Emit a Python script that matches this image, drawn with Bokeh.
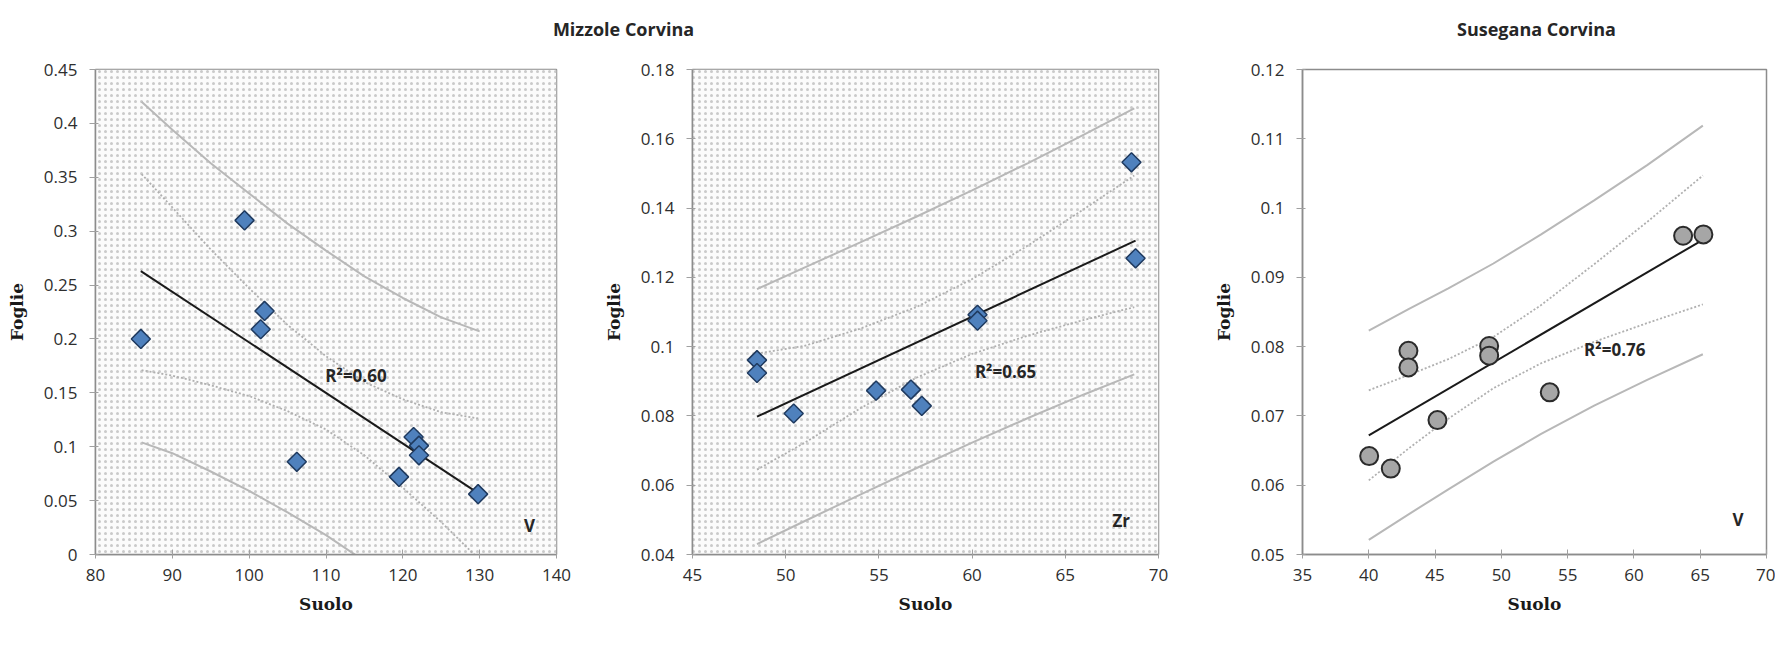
import numpy as np
from bokeh.plotting import figure
from bokeh.layouts import column, row
from bokeh.models import BoxAnnotation, Label, FixedTicker, Range1d
from bokeh.embed import file_html
from bokeh.resources import INLINE

# ---------------- data ----------------
# Panel 1: Mizzole Corvina, V
mv_suolo = [85.9, 99.4, 102.0, 101.5, 106.2, 119.5, 121.4, 122.1, 122.1, 129.8]
mv_foglie = [0.200, 0.310, 0.226, 0.209, 0.086, 0.072, 0.109, 0.101, 0.092, 0.056]
mv_trend_x = [85.9, 129.8]
mv_trend_y = [0.263, 0.057]
mv_band_x = [86, 90, 95, 100, 105, 110, 115, 120, 125, 130]
mv_pred_hi = [0.420, 0.394, 0.363, 0.335, 0.307, 0.282, 0.258, 0.238, 0.220, 0.207]
mv_pred_lo = [0.104, 0.094, 0.077, 0.059, 0.039, 0.018, -0.006, -0.032, -0.062, -0.095]
mv_conf_hi = [0.353, 0.322, 0.283, 0.247, 0.213, 0.184, 0.160, 0.144, 0.132, 0.126]
mv_conf_lo = [0.171, 0.166, 0.157, 0.147, 0.133, 0.116, 0.092, 0.062, 0.030, -0.005]
mv_xticks = [80, 90, 100, 110, 120, 130, 140]
mv_xlabels = ["80", "90", "100", "110", "120", "130", "140"]
mv_yticks = [0, 0.05, 0.1, 0.15, 0.2, 0.25, 0.3, 0.35, 0.4, 0.45]
mv_ylabels = ["0", "0.05", "0.1", "0.15", "0.2", "0.25", "0.3", "0.35", "0.4", "0.45"]

# Panel 2: Mizzole Corvina, Zr
mz_suolo = [48.46, 48.46, 50.43, 54.85, 56.72, 57.30, 60.29, 60.29, 68.55, 68.77]
mz_foglie = [0.0961, 0.0924, 0.0807, 0.0873, 0.0876, 0.0829, 0.1092, 0.1075, 0.1532, 0.1255]
mz_trend_x = [48.46, 68.77]
mz_trend_y = [0.0798, 0.1306]
mz_band_x = [48.46, 51, 54, 57, 60, 63, 66, 68.7]
mz_pred_hi = [0.1166, 0.1228, 0.1301, 0.1375, 0.1451, 0.1530, 0.1612, 0.1688]
mz_pred_lo = [0.0430, 0.0496, 0.0573, 0.0649, 0.0723, 0.0794, 0.0862, 0.0920]
mz_conf_hi = [0.0980, 0.1002, 0.1052, 0.1114, 0.1195, 0.1292, 0.1397, 0.1494]
mz_conf_lo = [0.0645, 0.0722, 0.0822, 0.0910, 0.0979, 0.1032, 0.1077, 0.1114]
mz_xticks = [45, 50, 55, 60, 65, 70]
mz_xlabels = ["45", "50", "55", "60", "65", "70"]
mz_yticks = [0.04, 0.06, 0.08, 0.1, 0.12, 0.14, 0.16, 0.18]
mz_ylabels = ["0.04", "0.06", "0.08", "0.1", "0.12", "0.14", "0.16", "0.18"]

# Panel 3: Susegana Corvina, V
sv_suolo = [40.03, 41.66, 42.99, 42.99, 45.18, 49.08, 49.08, 53.65, 63.71, 65.24]
sv_foglie = [0.0642, 0.0624, 0.0794, 0.0770, 0.0694, 0.0801, 0.0787, 0.0734, 0.0960, 0.0962]
sv_trend_x = [40.0, 65.0]
sv_trend_y = [0.0672, 0.0952]
sv_band_x = [40, 43, 46, 49.4, 53, 57, 61, 65.2]
sv_pred_hi = [0.0823, 0.0854, 0.0884, 0.0920, 0.0962, 0.1011, 0.1062, 0.1119]
sv_pred_lo = [0.0521, 0.0558, 0.0594, 0.0634, 0.0674, 0.0715, 0.0752, 0.0789]
sv_conf_hi = [0.0737, 0.0759, 0.0782, 0.0814, 0.0860, 0.0919, 0.0980, 0.1047]
sv_conf_lo = [0.0607, 0.0653, 0.0696, 0.0740, 0.0776, 0.0807, 0.0834, 0.0861]
sv_xticks = [35, 40, 45, 50, 55, 60, 65, 70]
sv_xlabels = ["35", "40", "45", "50", "55", "60", "65", "70"]
sv_yticks = [0.05, 0.06, 0.07, 0.08, 0.09, 0.1, 0.11, 0.12]
sv_ylabels = ["0.05", "0.06", "0.07", "0.08", "0.09", "0.1", "0.11", "0.12"]

titles = ["Mizzole Corvina", "Susegana Corvina"]
r2_labels = ["R\u00b2=0.60", "R\u00b2=0.65", "R\u00b2=0.76"]
element_labels = ["V", "Zr", "V"]

# ---------------- styling ----------------
TICK_FONT = "Open Sans"
TXT = "#262626"
STRIP_H = 44
PANEL_H = 647 - STRIP_H


def make_panel(width, xr, yr, xticks, xlabels, yticks, ylabels,
               bl, br, frame_top, frame_bottom, dotted):
    p = figure(width=width, height=PANEL_H,
               x_range=Range1d(*xr), y_range=Range1d(*yr),
               output_backend="svg", toolbar_location=None,
               min_border_left=bl, min_border_right=br,
               min_border_top=frame_top - STRIP_H,
               min_border_bottom=647 - frame_bottom)
    p.xgrid.visible = False
    p.ygrid.visible = False
    p.outline_line_color = "#8c8c8c"
    p.outline_line_width = 1.5
    p.background_fill_color = "white"
    p.border_fill_color = "white"
    if dotted:
        p.add_layout(BoxAnnotation(level="underlay", fill_color="#fbfbfb", fill_alpha=1.0,
                                   line_color=None, hatch_pattern="dot",
                                   hatch_color="#c4c4c4", hatch_alpha=0.9,
                                   hatch_scale=6, hatch_weight=1))
    for ax in (p.xaxis[0], p.yaxis[0]):
        ax.axis_line_color = "#8c8c8c"
        ax.axis_line_width = 1.5
        ax.major_tick_line_color = "#a0a0a0"
        ax.minor_tick_line_color = None
        ax.major_label_text_font = TICK_FONT
        ax.major_label_text_font_size = "17px"
        ax.major_label_text_color = "#2e2e2e"
        ax.axis_label_text_font = "DejaVu Serif"
        ax.axis_label_text_font_style = "bold"
        ax.axis_label_text_font_size = "17px"
        ax.axis_label_text_color = "#1a1a1a"
    p.xaxis.ticker = FixedTicker(ticks=xticks)
    p.xaxis.major_label_overrides = {t: l for t, l in zip(xticks, xlabels)}
    p.yaxis.ticker = FixedTicker(ticks=yticks)
    p.yaxis.major_label_overrides = {t: l for t, l in zip(yticks, ylabels)}
    p.xaxis.major_tick_in = 5
    p.xaxis.major_tick_out = 4
    p.xaxis.major_label_standoff = 10
    p.yaxis.major_tick_in = 3
    p.yaxis.major_tick_out = 6
    p.yaxis.major_label_standoff = 12
    p.xaxis.axis_label = "Suolo"
    p.yaxis.axis_label = "Foglie"
    p.xaxis.axis_label_standoff = 10
    p.yaxis.axis_label_standoff = 14
    return p


def add_series(p, sx, sy, tx, ty, bx, phi, plo, chi, clo, marker):
    p.line(bx, phi, line_color="#b8b8b8", line_width=2)
    p.line(bx, plo, line_color="#b8b8b8", line_width=2)
    p.line(bx, chi, line_color="#b0b0b0", line_width=1.8, line_dash="2 2")
    p.line(bx, clo, line_color="#b0b0b0", line_width=1.8, line_dash="2 2")
    p.line(tx, ty, line_color="#1a1a1a", line_width=2)
    if marker == "diamond":
        p.scatter(sx, sy, marker="square", angle=np.pi / 4, size=13.5,
                  fill_color="#4f81bd", line_color="#1f3a5f", line_width=1.5)
    else:
        p.scatter(sx, sy, marker="circle", size=18,
                  fill_color="#a6a6a6", line_color="#2b2b2b", line_width=2)


def add_text(p, x, y, text, align="left"):
    p.add_layout(Label(x=x, y=y, text=text, text_font=TICK_FONT, text_font_style="bold",
                       text_font_size="17px", text_color=TXT, text_align=align,
                       text_baseline="middle"))


# Panel 1
p1 = make_panel(600, (80, 140), (0, 0.45), mv_xticks, mv_xlabels, mv_yticks, mv_ylabels,
                95, 600 - 556, 62, 554, True)
add_series(p1, mv_suolo, mv_foglie, mv_trend_x, mv_trend_y, mv_band_x,
           mv_pred_hi, mv_pred_lo, mv_conf_hi, mv_conf_lo, "diamond")
add_text(p1, 109.9, 0.166, r2_labels[0])
add_text(p1, 136.5, 0.027, element_labels[0], "center")

# Panel 2
p2 = make_panel(600, (45, 70), (0.04, 0.18), mz_xticks, mz_xlabels, mz_yticks, mz_ylabels,
                691 - 600, 1200 - 1158, 69, 561, True)
add_series(p2, mz_suolo, mz_foglie, mz_trend_x, mz_trend_y, mz_band_x,
           mz_pred_hi, mz_pred_lo, mz_conf_hi, mz_conf_lo, "diamond")
add_text(p2, 60.15, 0.0928, r2_labels[1])
add_text(p2, 68.0, 0.0497, element_labels[1], "center")

# Panel 3
p3 = make_panel(575, (35, 70), (0.05, 0.12), sv_xticks, sv_xlabels, sv_yticks, sv_ylabels,
                1302 - 1200, 1775 - 1766, 69, 561, False)
add_series(p3, sv_suolo, sv_foglie, sv_trend_x, sv_trend_y, sv_band_x,
           sv_pred_hi, sv_pred_lo, sv_conf_hi, sv_conf_lo, "circle")
add_text(p3, 56.24, 0.0796, r2_labels[2])
add_text(p3, 67.85, 0.055, element_labels[2], "center")

# Title strip
ts = figure(width=1775, height=STRIP_H, x_range=Range1d(0, 1775), y_range=Range1d(0, STRIP_H),
            output_backend="svg", toolbar_location=None, min_border=0)
ts.axis.visible = False
ts.xgrid.visible = False
ts.ygrid.visible = False
ts.outline_line_color = None
for tx_, t in zip([623, 1536], titles):
    ts.add_layout(Label(x=tx_, y=STRIP_H - 28, x_units="screen", y_units="screen", text=t,
                        text_font=TICK_FONT, text_font_style="bold", text_font_size="18px",
                        text_color=TXT, text_align="center", text_baseline="middle"))

layout = column(ts, row(p1, p2, p3, spacing=0), spacing=0)
open("out.html", "w").write(file_html(layout, INLINE))
